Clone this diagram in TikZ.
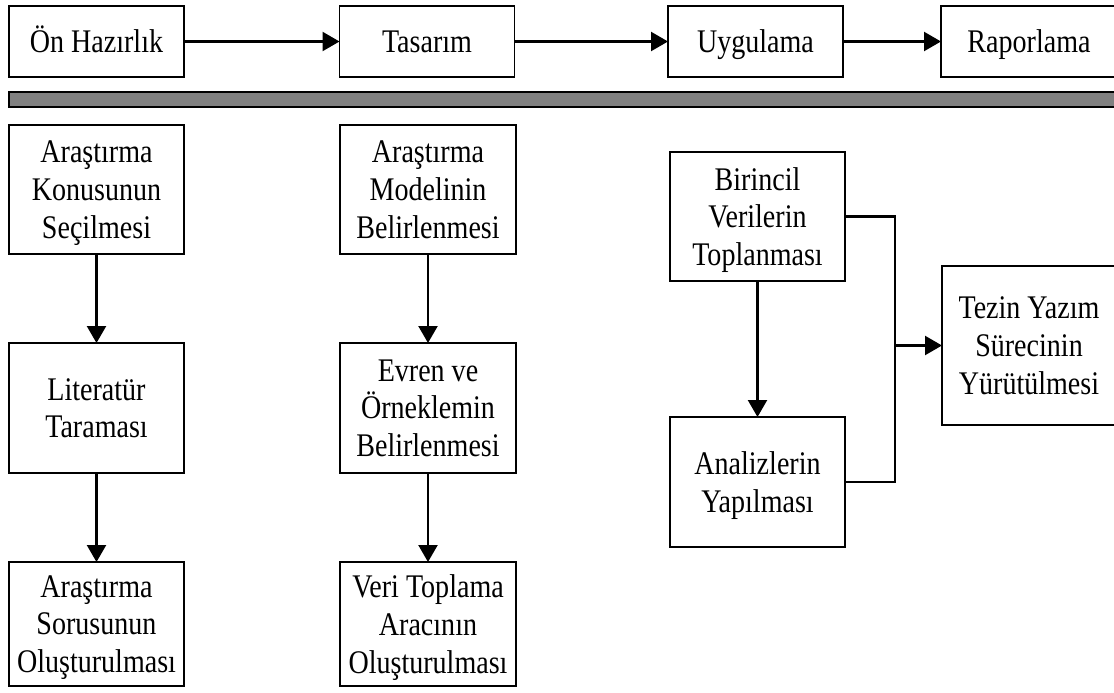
\documentclass[tikz,border=0pt]{standalone}
\usepackage{fontspec}
\setmainfont[FakeStretch=0.85]{Liberation Serif}
\usetikzlibrary{arrows.meta}
\definecolor{bargray}{RGB}{128,128,128}
\begin{document}
\begin{tikzpicture}[x=1pt,y=-1pt,
  box/.style={draw=black, line width=1.8pt, inner sep=0pt, outer sep=0pt,
    align=center, font=\fontsize{33}{37.7}\selectfont, text depth=0pt},
  topbox/.style={box, minimum width=175pt, minimum height=71pt, text height=22pt},
  colbox/.style={box, minimum width=175pt},
  conn/.style={line width=2.3pt},
  arr/.style={conn, -{Triangle[length=17pt,width=19pt]}}]
\useasboundingbox (0,0) rectangle (1114,693);

% top row
\node[topbox] (n1) at (96.5,41.5) {Ön Hazırlık};
\node[topbox] (n2) at (427,41.5) {Tasarım};
\node[topbox] (n3) at (755.5,41.5) {Uygulama};
\node[topbox, minimum width=176pt] (n4) at (1029,41.5) {Raporlama};
\draw[arr] (n1.east) -- (n2.west);
\draw[arr] (n2.east) -- (n3.west);
\draw[arr] (n3.east) -- (n4.west);

% separator bar
\draw[line width=2.6pt, fill=bargray] (9,92) rectangle (1130,107);

% column 1
\node[colbox, minimum height=129pt] (a1) at (96.5,189.5) {Araştırma\\Konusunun\\Seçilmesi};
\node[colbox, minimum height=130pt] (a2) at (96.5,408) {Literatür\\Taraması};
\node[colbox, minimum height=124pt] (a3) at (96.5,624) {Araştırma\\Sorusunun\\Oluşturulması};
\draw[arr] (a1.south) -- (a2.north);
\draw[arr] (a2.south) -- (a3.north);

% column 2
\node[colbox, minimum width=176pt, minimum height=129pt] (b1) at (428,189.5) {Araştırma\\Modelinin\\Belirlenmesi};
\node[colbox, minimum width=176pt, minimum height=130pt] (b2) at (428,408) {Evren ve\\Örneklemin\\Belirlenmesi};
\node[colbox, minimum width=176pt, minimum height=124pt] (b3) at (428,624) {Veri Toplama\\Aracının\\Oluşturulması};
\draw[arr] (b1.south) -- (b2.north);
\draw[arr] (b2.south) -- (b3.north);

% right part
\node[colbox, minimum height=129pt] (c1) at (757.5,216.5) {Birincil\\Verilerin\\Toplanması};
\node[colbox, minimum height=130pt] (c2) at (757.5,482) {Analizlerin\\Yapılması};
\node[colbox, minimum width=174pt, minimum height=159pt] (d) at (1029,345.5) {Tezin Yazım\\Sürecinin\\Yürütülmesi};
\draw[arr] (c1.south) -- (c2.north);
\coordinate (j) at (895,345.5);
\draw[conn] (c1.east) -| (j) |- (c2.east);
\draw[arr] (j) -- (d.west);
\end{tikzpicture}
\end{document}
